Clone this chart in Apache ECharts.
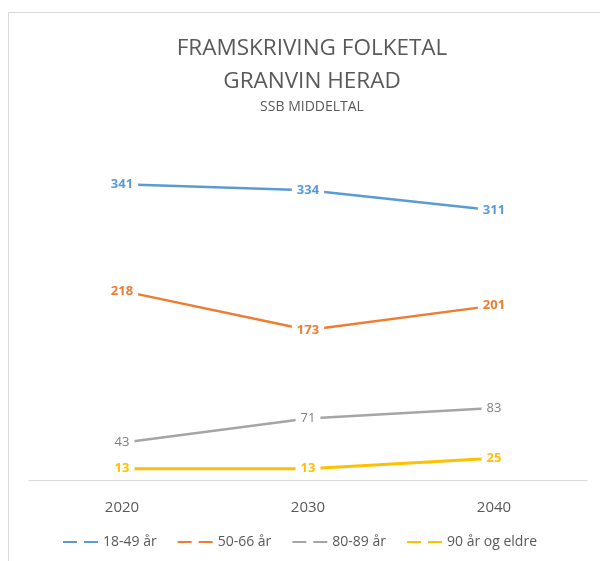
<!DOCTYPE html>
<html>
<head>
<meta charset="utf-8">
<script src="https://cdn.jsdelivr.net/npm/echarts@6/dist/echarts.min.js"></script>
<style>
  html, body { margin: 0; padding: 0; background: #fff; }
  #main { width: 600px; height: 561px; }
</style>
</head>
<body>
<div id="main"></div>
<script>
// data
var years = ['2020', '2030', '2040'];
var seriesNames = ['18-49 år', '50-66 år', '80-89 år', '90 år og eldre'];
var age1849 = [341, 334, 311];
var age5066 = [218, 173, 201];
var age8089 = [43, 71, 83];
var age90 = [13, 13, 25];

var colors = ['#5B9BD5', '#ED7D31', '#A5A5A5', '#FFC000'];
var labelColors = ['#5B9BD5', '#ED7D31', '#7F7F7F', '#FFC000'];
var lineWidths = [2.5, 2.5, 2.5, 3];
var font = '"Open Sans", "Liberation Sans", sans-serif';

function makeSeries(name, values, i) {
  return {
    name: name,
    type: 'line',
    data: values,
    symbol: 'circle',
    symbolSize: 1,
    lineStyle: { color: colors[i], width: lineWidths[i] },
    itemStyle: { color: 'rgba(0,0,0,0)', borderWidth: 0 },
    z: 2,
    label: {
      show: true,
      position: 'inside',
      color: labelColors[i],
      fontFamily: font,
      fontSize: 13,
      fontWeight: i == 2 ? 'normal' : 'bold',
      backgroundColor: '#fff',
      padding: [3, 5]
    },
    emphasis: { disabled: true }
  };
}

var legendData = seriesNames.map(function (n, i) {
  return { name: n, itemStyle: { color: colors[i], opacity: 1 } };
});

var chart = echarts.init(document.getElementById('main'));
chart.setOption({
  animation: false,
  backgroundColor: '#fff',
  graphic: [{
    type: 'rect',
    shape: { x: 8.5, y: 12.5, width: 620, height: 580 },
    style: { fill: 'none', stroke: '#D9D9D9', lineWidth: 1 },
    z: -1
  }],
  title: {
    text: 'FRAMSKRIVING FOLKETAL\nGRANVIN HERAD',
    subtext: 'SSB MIDDELTAL',
    left: 307,
    textAlign: 'center',
    top: 27,
    itemGap: 2,
    textStyle: { fontFamily: font, fontSize: 22.5, fontWeight: 'normal', color: '#595959', lineHeight: 33 },
    subtextStyle: { fontFamily: font, fontSize: 14, color: '#595959' }
  },
  legend: {
    data: legendData,
    bottom: 7,
    left: 'center',
    itemWidth: 35,
    itemHeight: 3,
    itemGap: 21,
    icon: 'path://M0,0 h14 v2 h-14z M21,0 h14 v2 h-14z',
    textStyle: { fontFamily: font, fontSize: 14, color: '#595959' }
  },
  grid: { left: 29, right: 13, top: 133, bottom: 81 },
  xAxis: {
    type: 'category',
    data: years,
    boundaryGap: true,
    axisLine: { lineStyle: { color: '#D9D9D9', width: 1 } },
    axisTick: { show: false },
    axisLabel: { fontFamily: font, fontSize: 15, color: '#595959', margin: 20 }
  },
  yAxis: {
    type: 'value',
    min: 0,
    max: 400,
    interval: 50,
    show: false,
    splitLine: { show: false }
  },
  series: [
    makeSeries(seriesNames[0], age1849, 0),
    makeSeries(seriesNames[1], age5066, 1),
    makeSeries(seriesNames[2], age8089, 2),
    makeSeries(seriesNames[3], age90, 3)
  ]
});
</script>
</body>
</html>
